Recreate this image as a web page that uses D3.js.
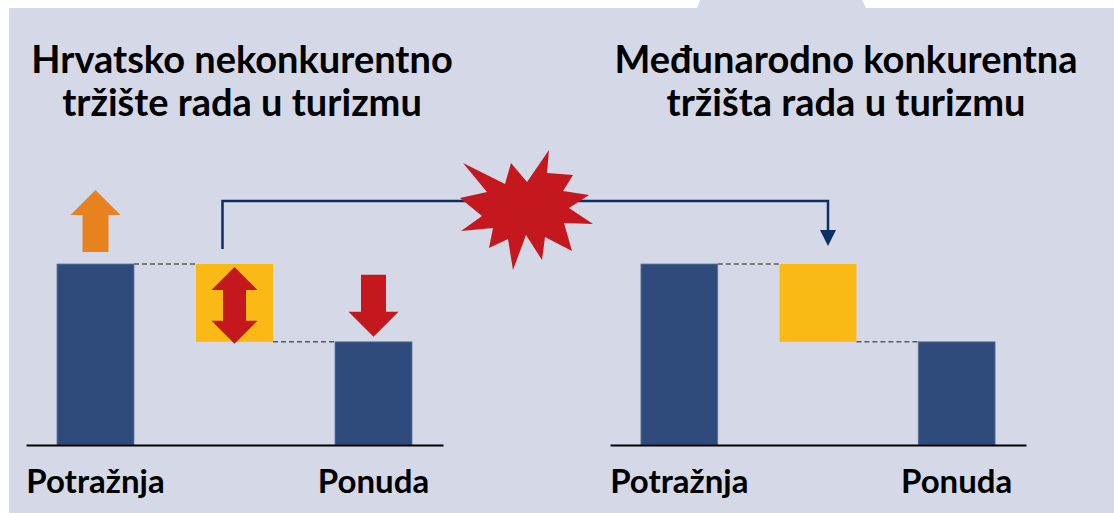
<!DOCTYPE html>
<html>
<head>
<meta charset="utf-8">
<script src="https://cdn.jsdelivr.net/npm/d3@7"></script>
<style>
  body { margin: 0; background: #fff; }
  svg { display: block; }
  text { font-family: Lato, "Open Sans", sans-serif; font-weight: 700; fill: #000; }
</style>
</head>
<body>
<div id="chart"></div>
<script>
// data
const categories = ['Potražnja', 'Jaz', 'Ponuda'];
const tickLabels = ['Potražnja', '', 'Ponuda'];
const demandValue = 100;
const supplyValue = 57;
const titlesLeft = ['Hrvatsko nekonkurentno', 'tržište rada u turizmu'];
const titlesRight = ['Međunarodno konkurentna', 'tržišta rada u turizmu'];
// starburst outline relative to its centre
const burstPoints = [[23,-60],[21,-37],[47,-35],[37,-19],[63,-15],[43,-2],[67,14],[38,13],[46,41],[19,27],
  [16,50],[0,25],[-13,60],[-18,29],[-37,38],[-33,18],[-65,21],[-44,6],[-66,-12],[-39,-18],[-63,-47],[-21,-26],[-15,-47],[1,-28]];

const W = 1114, H = 513;
const colors = { bg: '#d5d8e7', bar: '#2f4b7c', gap: '#fbb915', up: '#e8821e', red: '#c4171e', line: '#0b3068' };

const svg = d3.select('#chart').append('svg')
    .attr('width', W)
    .attr('height', H);

// lavender panel with the little tab at the top
svg.append('path')
    .attr('d', 'M9,8 L697,8 L700,0 L862,0 L866,8 L1114,8 L1114,513 L9,513 Z')
    .attr('fill', colors.bg);

const steps = [
  { cat: categories[0], from: 0, to: demandValue },
  { cat: categories[1], from: supplyValue, to: demandValue },
  { cat: categories[2], from: 0, to: supplyValue }
];

const y = d3.scaleLinear().domain([0, demandValue]).range([445, 264]);

// simple arrow polygon, tip at tipY, tail at tailY
function arrowPath(cx, tipY, tailY, headH, headW, shaftW) {
  const dir = tailY > tipY ? 1 : -1;
  const hb = tipY + dir * headH;
  return `M${cx},${tipY} L${cx + headW / 2},${hb} L${cx + shaftW / 2},${hb} L${cx + shaftW / 2},${tailY}` +
    ` L${cx - shaftW / 2},${tailY} L${cx - shaftW / 2},${hb} L${cx - headW / 2},${hb} Z`;
}

function doubleArrowPath(cx, topY, botY, headH, headW, shaftW) {
  const a = topY + headH, b = botY - headH;
  return `M${cx},${topY} L${cx + headW / 2},${a} L${cx + shaftW / 2},${a} L${cx + shaftW / 2},${b}` +
    ` L${cx + headW / 2},${b} L${cx},${botY} L${cx - headW / 2},${b} L${cx - shaftW / 2},${b}` +
    ` L${cx - shaftW / 2},${a} L${cx - headW / 2},${a} Z`;
}

function drawPanel(x0, x1, titles, titleX, withArrows) {
  const x = d3.scaleBand().domain(categories).range([x0, x1]).paddingInner(0.446).paddingOuter(0.223);
  const g = svg.append('g');

  // titles
  g.selectAll('text.title')
    .data(titles)
    .join('text')
    .attr('class', 'title')
    .attr('x', titleX)
    .attr('y', (d, i) => 73 + i * 43)
    .attr('text-anchor', 'middle')
    .attr('font-size', 38)
    .text(d => d);

  // dashed connectors between steps
  const links = [
    { x1: x(categories[0]) + x.bandwidth(), x2: x(categories[1]), v: demandValue },
    { x1: x(categories[1]) + x.bandwidth(), x2: x(categories[2]), v: supplyValue }
  ];
  g.selectAll('line.link')
    .data(links)
    .join('line')
    .attr('class', 'link')
    .attr('x1', d => d.x1)
    .attr('x2', d => d.x2)
    .attr('y1', d => y(d.v))
    .attr('y2', d => y(d.v))
    .attr('stroke', '#5a5a5a')
    .attr('stroke-width', 1.5)
    .attr('stroke-dasharray', '5,3');

  // bars
  g.selectAll('rect.step')
    .data(steps)
    .join('rect')
    .attr('class', 'step')
    .attr('x', d => x(d.cat))
    .attr('width', x.bandwidth())
    .attr('y', d => y(d.to))
    .attr('height', d => y(d.from) - y(d.to))
    .attr('fill', (d, i) => i === 1 ? colors.gap : colors.bar)
    .attr('stroke', (d, i) => i === 1 ? 'none' : '#6477a0')
    .attr('stroke-width', 0.8);

  // axis
  const axis = d3.axisBottom(x).tickSize(0).tickPadding(0).tickFormat((d, i) => tickLabels[i]);
  const ag = g.append('g')
      .attr('transform', `translate(0, ${y(0)})`)
      .call(axis);
  ag.select('.domain').attr('stroke', '#000').attr('stroke-width', 2.2);
  ag.selectAll('text')
      .attr('y', 48)
      .attr('dy', 0)
      .attr('font-size', 33)
      .attr('font-family', 'Lato, sans-serif')
      .attr('font-weight', 700)
      .attr('fill', '#000');

  if (withArrows) {
    const c0 = x(categories[0]) + x.bandwidth() / 2;
    const c1 = x(categories[1]) + x.bandwidth() / 2;
    const c2 = x(categories[2]) + x.bandwidth() / 2;
    g.append('path')
      .attr('d', arrowPath(c0, y(demandValue) - 74, y(demandValue) - 12, 25, 50, 26))
      .attr('fill', colors.up);
    g.append('path')
      .attr('d', doubleArrowPath(c1, y(demandValue) + 3, y(supplyValue) + 2, 23, 46, 23))
      .attr('fill', colors.red);
    g.append('path')
      .attr('d', arrowPath(c2, y(supplyValue) - 5, y(supplyValue) - 67, 25, 50, 25))
      .attr('fill', colors.red);
  }
  return x;
}

const xl = drawPanel(26, 443, titlesLeft, 242, true);
const xr = drawPanel(610, 1026, titlesRight, 846, false);

// connector from the left gap to the right gap
const startX = xl(categories[1]) + xl.bandwidth() / 2 - 12;
const endX = xr(categories[1]) + xr.bandwidth() / 2 + 10;
const topY = y(demandValue) - 63;
svg.append('path')
    .attr('d', `M${startX},${y(demandValue) - 15} L${startX},${topY} L${endX},${topY} L${endX},${y(demandValue) - 33}`)
    .attr('fill', 'none')
    .attr('stroke', colors.line)
    .attr('stroke-width', 2.5);
svg.append('path')
    .attr('d', `M${endX - 8},${y(demandValue) - 34} L${endX + 8},${y(demandValue) - 34} L${endX},${y(demandValue) - 18} Z`)
    .attr('fill', colors.line);

// starburst
svg.append('path')
    .datum(burstPoints)
    .attr('transform', 'translate(526, 210)')
    .attr('d', d3.line().curve(d3.curveLinearClosed))
    .attr('fill', colors.red);
</script>
</body>
</html>
